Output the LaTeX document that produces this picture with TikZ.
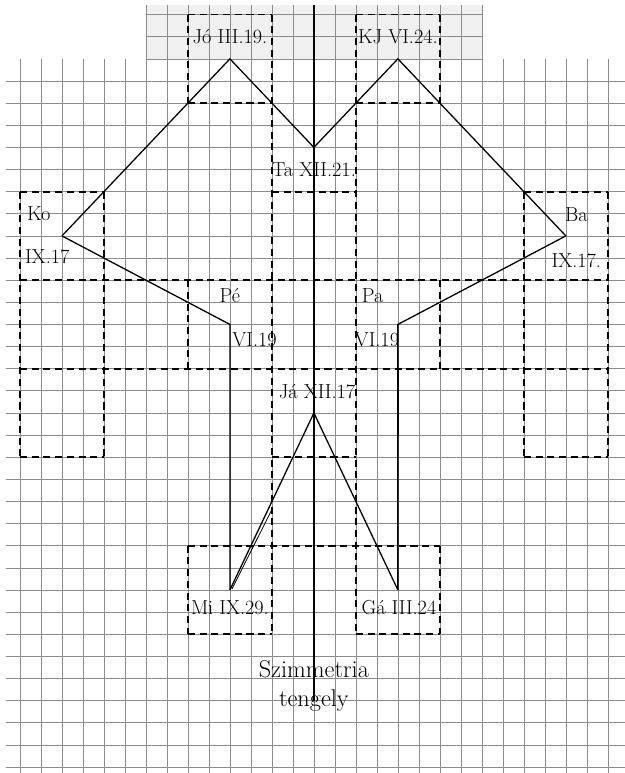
\documentclass[tikz,border=0pt]{standalone}
\usepackage{tikz}
\usetikzlibrary{calc}

\begin{document}
\begin{tikzpicture}[
    x=0.63cm, y=0.664cm,
    gridline/.style={black!45, line width=0.6pt},
    cutline/.style={black, line width=1.5pt, dash pattern=on 6pt off 4pt},
    edge/.style={black, line width=1.1pt},
    axisline/.style={black, line width=1.1pt},
    lbl/.style={font=\LARGE, inner sep=1pt}
  ]
  \useasboundingbox (-14.95,8.66) rectangle (14.81,-26.27);

  % strip of paper on top
  \fill[gray!12] (-8,8.45) rectangle (8,6);
  \foreach \j in {-8,...,8} \draw[gridline] (\j,8.45) -- (\j,6);
  \foreach \y in {8,7,6} \draw[gridline] (-8,\y) -- (8,\y);

  % main sheet
  \foreach \j in {-14,...,14} \draw[gridline] (\j,6) -- (\j,-26.27);
  \foreach \y in {5,4,...,-26} \draw[gridline] (-14.66,\y) -- (14.81,\y);

  % dashed squares
  \foreach \a/\b/\y in {-6/-2/8, 2/6/8, -6/-2/4, 2/6/4,
                        -14/-10/0, -2/2/0, 10/14/0,
                        -14/14/-4, -14/14/-8,
                        -14/-10/-12, -2/2/-12, 10/14/-12,
                        -6/6/-16, -6/-2/-20, 2/6/-20}
    \draw[cutline] (\a,\y) -- (\b,\y);
  \foreach \j/\a/\b in {-14/0/-12, -10/0/-12, 10/0/-12, 14/0/-12,
                        -6/8/4, 6/8/4, -6/-4/-8, 6/-4/-8, -6/-16/-20, 6/-16/-20,
                        -2/8/-20, 2/8/-20}
    \draw[cutline] (\j,\a) -- (\j,\b);

  % symmetry axis
  \coordinate (axtop) at (0,8.45);
  \coordinate (axbot) at (0,-23);
  \draw[axisline] (axtop) -- (axbot);

  % seats
  \coordinate (jo) at (-4,6);
  \coordinate (kj) at (4,6);
  \coordinate (ta) at (0,2);
  \coordinate (ko) at (-12,-2);
  \coordinate (ba) at (12,-2);
  \coordinate (pe) at (-4,-6);
  \coordinate (pa) at (4,-6);
  \coordinate (ja) at (0,-10);
  \coordinate (mi) at (-4,-18);
  \coordinate (ga) at (4,-18);

  \draw[edge] (ko) -- (jo) -- (ta) -- (kj) -- (ba);
  \draw[edge] (ko) -- (pe) -- (mi);
  \draw[edge] (ba) -- (pa) -- (ga);
  \draw[edge] (mi) -- (ja) -- (ga);
  % traced twice
  \draw[edge, line width=0.7pt] ($(mi)+(0.1,0.05)$) -- ($(mi)!0.45!(ja)+(0.18,0)$);
  \draw[edge, line width=2pt] ($(pa)+(0,-2)$) -- ($(pa)+(0,-5)$);

  % names and dates
  \node[lbl] (jolbl) at (-4,7) {Jó III.19.};
  \node[lbl] (kjlbl) at (4,7) {KJ VI.24.};
  \node[lbl] (talbl) at (0,1) {Ta XII.21.};
  \node[lbl] (kolbl) at (-13.1,-1) {Ko};
  \node[lbl] (kodate) at (-12.7,-2.95) {IX.17};
  \node[lbl] (balbl) at (12.5,-1.05) {Ba};
  \node[lbl] (badate) at (12.5,-3.1) {IX.17.};
  \node[lbl] (pelbl) at (-4,-4.7) {Pé};
  \node[lbl, anchor=west] (pedate) at (-3.95,-6.7) {VI.19};
  \node[lbl] (palbl) at (2.8,-4.7) {Pa};
  \node[lbl] (padate) at (3,-6.7) {VI.19};
  \node[lbl] (jalbl) at (0.15,-9.05) {Já XII.17};
  \node[lbl] (milbl) at (-4,-18.8) {Mi IX.29.};
  \node[lbl] (galbl) at (4.05,-18.8) {Gá III.24};
  \node[lbl, font=\huge, align=center] (axislbl) at (0,-22.35) {Szimmetria\\tengely};
\end{tikzpicture}
\end{document}
